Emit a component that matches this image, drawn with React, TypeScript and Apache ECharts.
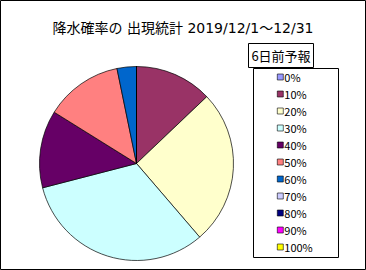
import React, { useEffect, useRef } from "react";
import * as echarts from "echarts";

const titleText = "降水確率の 出現統計 2019/12/1～12/31";
const legendTitle = "6日前予報";
const categories = ["0%", "10%", "20%", "30%", "40%", "50%", "60%", "70%", "80%", "90%", "100%"];
const counts = [0, 4, 8, 10, 4, 4, 1, 0, 0, 0, 0];
const colors = ["#9999FF", "#993366", "#FFFFCC", "#CCFFFF", "#660066", "#FF8080", "#0066CC", "#CCCCFF", "#000080", "#FF00FF", "#FFFF00"];

const FONT = "'Noto Sans CJK JP', 'DejaVu Sans', sans-serif";
const TITLE_FONT = "'DejaVu Sans', 'Noto Sans CJK JP', sans-serif";

export default function App() {
  const ref = useRef<HTMLDivElement>(null);
  useEffect(() => {
    document.body.style.margin = "0";
    const chart = echarts.init(ref.current!, undefined, { renderer: "svg" });
    chart.setOption({
      animation: false,
      backgroundColor: "#fff",
      title: {
        text: titleText,
        left: 178,
        top: 14,
        textAlign: "center",
        textStyle: { fontFamily: TITLE_FONT, fontSize: 14, fontWeight: "normal", color: "#000", lineHeight: 17 },
      },
      legend: {
        orient: "vertical",
        left: 277,
        top: 71,
        padding: 0,
        itemWidth: 6,
        itemHeight: 6,
        itemGap: 5,
        icon: "rect",
        selectedMode: false,
        data: categories,
        textStyle: { fontFamily: FONT, fontSize: 11, lineHeight: 12, color: "#000", padding: [0, 0, 0, -4] },
        itemStyle: { borderColor: "#000", borderWidth: 0.6 },
      },
      graphic: [
        { type: "rect", shape: { x: 0.5, y: 0.5, width: 365, height: 269 }, style: { fill: "none", stroke: "#000", lineWidth: 1 }, silent: true },
        { type: "rect", shape: { x: 248.5, y: 43.5, width: 65, height: 24 }, style: { fill: "#fff", stroke: "#000", lineWidth: 1 }, silent: true },
        { type: "text", x: 281, y: 55.5, style: { text: legendTitle, fontFamily: FONT, fontSize: 13, fill: "#000", align: "center", verticalAlign: "middle" }, silent: true },
        { type: "rect", z: -1, shape: { x: 253.5, y: 68.5, width: 85, height: 189 }, style: { fill: "#fff", stroke: "#000", lineWidth: 1 }, silent: true },
      ],
      series: [
        {
          type: "pie",
          center: [136.5, 163.5],
          radius: 97,
          startAngle: 90,
          clockwise: true,
          label: { show: false },
          labelLine: { show: false },
          emphasis: { disabled: true },
          itemStyle: { borderColor: "#000", borderWidth: 0.7 },
          data: categories.map((c, i) => ({ name: c, value: counts[i], itemStyle: { color: colors[i] } })),
        },
      ],
    });
    return () => chart.dispose();
  }, []);
  return <div ref={ref} style={{ width: 366, height: 270 }} />;
}
